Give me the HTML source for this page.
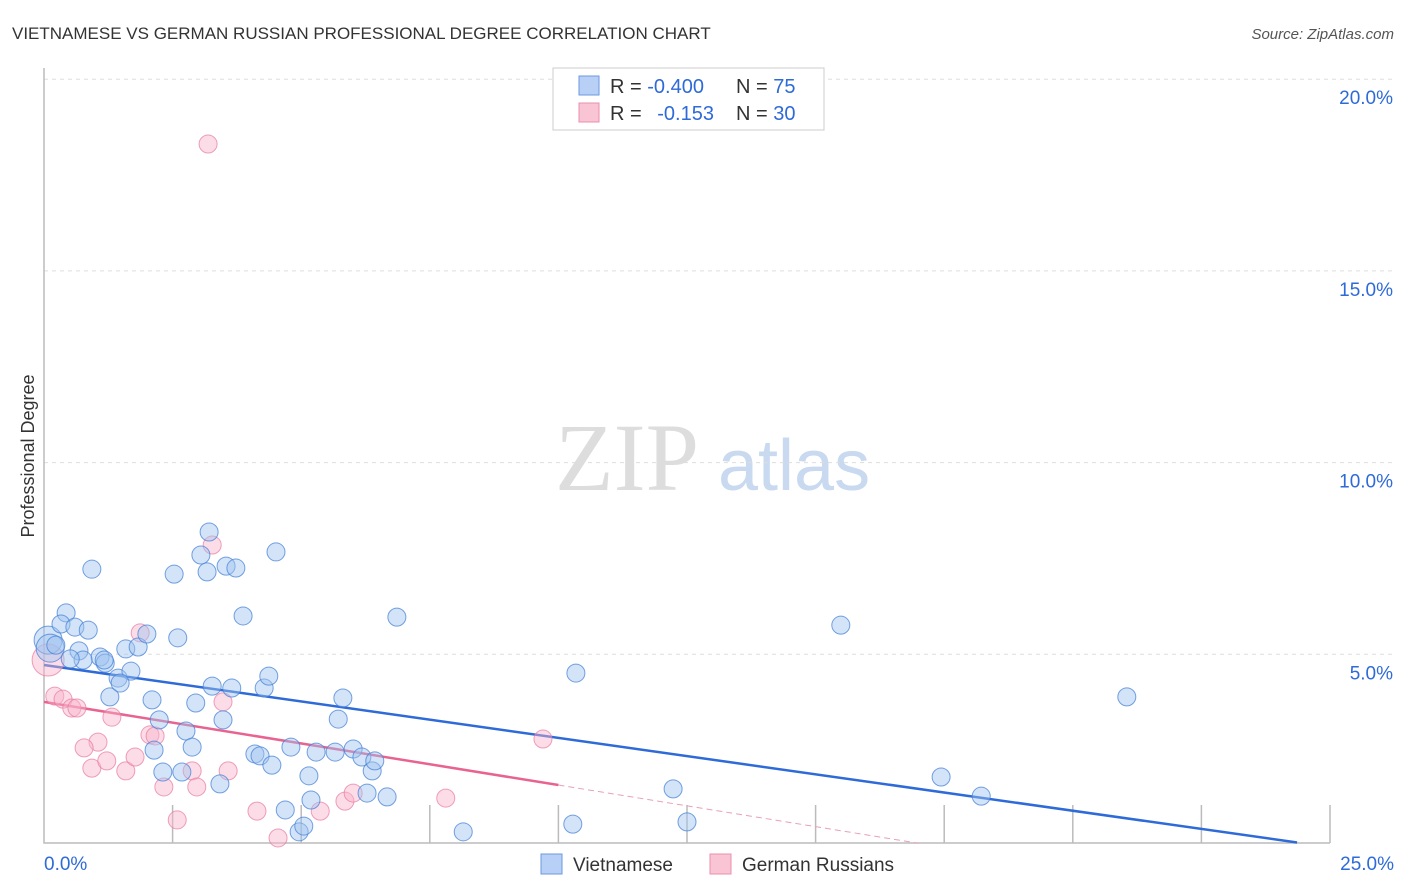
<!DOCTYPE html>
<html><head><meta charset="utf-8"><style>
body{margin:0;background:#fff;font-family:"Liberation Sans",sans-serif}
svg{display:block}
</style></head><body>
<svg id="chart" width="1406" height="892">
<text x="12" y="39" font-size="17" fill="#333">VIETNAMESE VS GERMAN RUSSIAN PROFESSIONAL DEGREE CORRELATION CHART</text>
<text x="1394" y="39" font-size="15" fill="#555" font-style="italic" text-anchor="end">Source: ZipAtlas.com</text>
<text x="34" y="456" font-size="18" fill="#333" text-anchor="middle" transform="rotate(-90 34 456)">Professional Degree</text>
<g>
<text x="555" y="490" font-size="96" font-family="Liberation Serif,serif" fill="#ddd">ZIP</text>
<text x="718" y="490" font-size="72" fill="#c8d9f0">atlas</text>
</g>
<g id="grid"></g><g id="axes"></g><g id="trends"></g><g id="points"></g>
<g>
<rect x="553" y="68" width="271" height="62" fill="#fff" stroke="#ccc"/>
<rect x="579" y="76" width="20" height="19" fill="#b8d0f5" stroke="#6a9ae0"/>
<rect x="579" y="103" width="20" height="19" fill="#f9c4d3" stroke="#ea8fae"/>
<text x="610" y="93" font-size="20" fill="#333">R = <tspan fill="#2e6ad8">-0.400</tspan></text>
<text x="736" y="93" font-size="20" fill="#333">N = <tspan fill="#2e6ad8">75</tspan></text>
<text x="610" y="120" font-size="20" fill="#333">R = <tspan fill="#2e6ad8" dx="10">-0.153</tspan></text>
<text x="736" y="120" font-size="20" fill="#333">N = <tspan fill="#2e6ad8">30</tspan></text>
</g>
<g>
<rect x="541" y="854" width="21" height="20" fill="#b8d0f5" stroke="#6a9ae0"/>
<text x="573" y="871" font-size="19" fill="#333">Vietnamese</text>
<rect x="710" y="854" width="21" height="20" fill="#f9c4d3" stroke="#ea8fae"/>
<text x="742" y="871" font-size="19" fill="#333">German Russians</text>
</g>
</svg>
<script>
const blueX=[.08,.12,.43,.33,.60,.86,.93,.68,1.09,1.19,.76,1.28,1.44,1.59,1.69,1.83,2.00,2.10,2.14,2.24,2.31,2.53,2.60,2.68,2.76,2.88,2.95,3.05,3.17,3.21,3.27,3.42,3.48,3.54,3.65,3.73,3.87,4.10,4.20,4.28,4.37,4.43,4.51,4.69,4.80,4.96,5.05,5.15,5.19,5.29,5.66,5.72,5.81,6.01,6.18,6.28,6.38,6.43,6.67,6.86,8.15,10.34,10.28,12.23,12.50,15.49,17.44,18.22,21.05,1.17,.51,.23,1.48];
const blueY=[5.37,5.16,6.08,5.79,5.71,5.63,7.22,5.09,4.93,4.77,4.85,3.89,4.38,5.14,4.56,5.19,5.53,3.81,2.50,3.29,1.93,7.09,5.43,1.93,3.00,2.58,3.73,7.59,7.15,8.19,4.17,1.62,3.29,7.30,4.12,7.25,6.00,2.40,2.35,4.12,4.43,2.11,7.67,0.94,2.58,0.37,0.52,1.83,1.20,2.45,2.45,3.31,3.86,2.53,2.32,1.38,1.96,2.22,1.28,5.97,0.37,4.51,0.57,1.49,0.63,5.76,1.80,1.30,3.89,4.85,4.88,5.24,4.25];
const pinkX=[3.19,3.27,1.87,.08,.21,.37,.54,.64,1.32,2.06,2.16,1.05,.78,.93,1.22,1.59,1.77,2.88,2.97,2.33,2.59,3.48,3.58,4.14,4.55,5.37,5.85,6.01,9.70,7.81];
const pinkY=[18.31,7.85,5.56,4.85,3.91,3.83,3.60,3.60,3.36,2.90,2.87,2.71,2.56,2.03,2.22,1.96,2.32,1.96,1.54,1.54,0.68,3.76,1.96,0.91,0.21,0.91,1.17,1.38,2.79,1.25];
const yTicks=[5,10,15,20];
const xTicks=[0,2.5,5,7.5,10,12.5,15,17.5,20,22.5,25];
const blueTrend=[4.72,-0.190];
const pinkTrend=[3.76,-0.217];
const NS="http://www.w3.org/2000/svg";
const sx=v=>44+v*51.44, sy=v=>846-v*38.34;
function mk(tag,attrs,parent){const e=document.createElementNS(NS,tag);for(const k in attrs)e.setAttribute(k,attrs[k]);document.getElementById(parent).appendChild(e);return e;}
yTicks.forEach(t=>{
 const l=mk('line',{x1:44,x2:1394,y1:sy(t),y2:sy(t),stroke:'#ddd','stroke-dasharray':'4,4'},'grid');
 
 
 const tx=mk('text',{x:1393,y:sy(t)+25,'font-size':19,fill:'#2e6ad8','text-anchor':'end'},'grid');
 tx.textContent=t.toFixed(1)+'%';
 
 
});
const ax=mk('path',{d:'M44 68V843H1330',fill:'none',stroke:'#bbb','stroke-width':1.5},'axes');


xTicks.forEach((t,i)=>{if(i==0)return;
 const l=mk('line',{x1:sx(t),x2:sx(t),y1:805,y2:843,stroke:'#bbb','stroke-width':1.5},'axes');
 
 
});
[[0,'0.0%',44,'start'],[25,'25.0%',1394,'end']].forEach(a=>{
 const tx=mk('text',{x:a[2],y:870,'font-size':19,fill:'#2e6ad8','text-anchor':a[3]},'axes');
 tx.textContent=a[1];
 
 
});
const bl=mk('line',{x1:sx(0),y1:sy(blueTrend[0]),x2:sx(24.36),y2:sy(blueTrend[0]+blueTrend[1]*24.36),stroke:'#2e6ad8','stroke-width':2.5},'trends');


const pl=mk('line',{x1:sx(0),y1:sy(pinkTrend[0]),x2:sx(10),y2:sy(pinkTrend[0]+pinkTrend[1]*10),stroke:'#e8638f','stroke-width':2.5},'trends');


const pd=mk('line',{x1:sx(10),y1:sy(pinkTrend[0]+pinkTrend[1]*10),x2:sx(17),y2:sy(pinkTrend[0]+pinkTrend[1]*17),stroke:'#e8a0b8','stroke-width':1,'stroke-dasharray':'6,4'},'trends');


pinkX.forEach((x,i)=>{
 const c=mk('circle',{cx:sx(x),cy:sy(pinkY[i]),r:i==3?16:9,fill:'rgba(248,180,202,0.45)',stroke:'rgba(232,120,160,0.7)','stroke-width':1},'points');
 
 
});
blueX.forEach((x,i)=>{
 const c=mk('circle',{cx:sx(x),cy:sy(blueY[i]),r:i<2?14:9,fill:'rgba(160,195,240,0.45)',stroke:'rgba(70,130,215,0.75)','stroke-width':1},'points');
 
 
});
</script>
</body></html>
